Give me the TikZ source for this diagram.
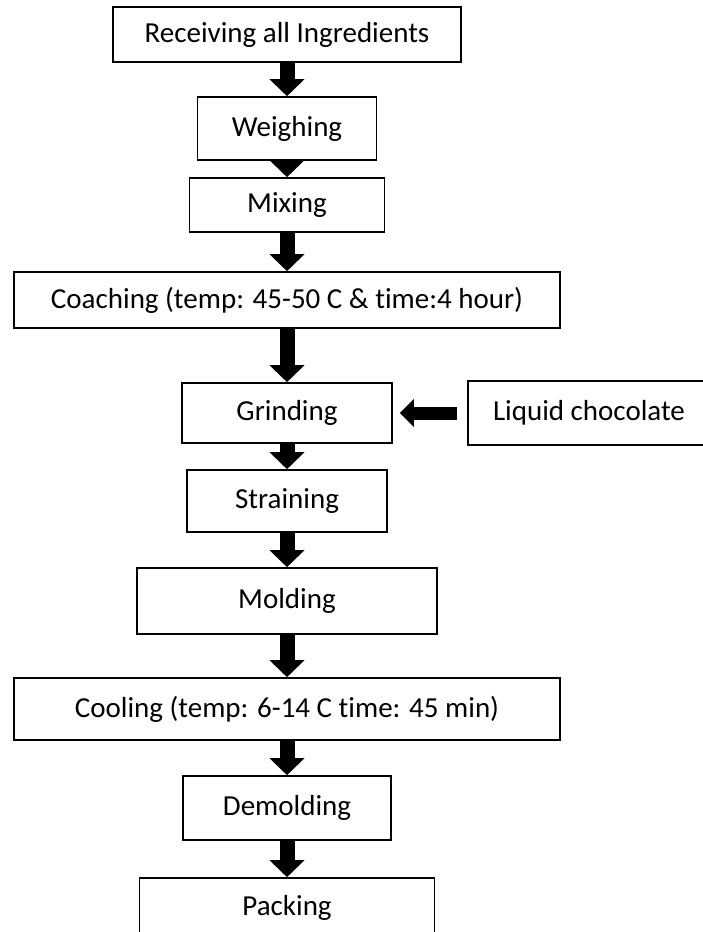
\documentclass[tikz,border=0pt]{standalone}
\usepackage{fontspec}
\setmainfont{Carlito}[Ligatures=NoCommon]
\usetikzlibrary{arrows.meta}

\begin{document}
\begin{tikzpicture}[x=1pt,y=-1pt,
  font=\fontsize{29}{34}\selectfont,
  stage/.style={draw,line width=1.6pt,inner sep=0pt,align=center},
  flowarrow/.style={line width=15pt,-{Triangle[width=34pt,length=17pt]}},
  feedarrow/.style={line width=13pt,-{Triangle[width=27pt,length=14pt]},
                    shorten >=7pt,shorten <=10pt}]
\useasboundingbox (0,0) rectangle (703,932);

% ---------- main line ----------
\node[stage,minimum width=348pt,minimum height=55pt] (recv)   at (287,34.5) {Receiving all Ingredients};
\node[stage,minimum width=179pt,minimum height=63pt] (weigh)  at (287,128.5) {Weighing};
\node[stage,minimum width=195pt,minimum height=54pt] (mix)    at (287,205) {Mixing};
\node[stage,minimum width=546pt,minimum height=56pt] (conch)  at (287,300) {Coaching (temp: 45-50 C \& time:4 hour)};
\node[stage,minimum width=210pt,minimum height=60pt] (grind)  at (287,413) {Grinding};
\node[stage,minimum width=200pt,minimum height=62pt] (strain) at (287,501) {Straining};
\node[stage,minimum width=300pt,minimum height=66pt] (mold)   at (287,601) {Molding};
\node[stage,minimum width=546pt,minimum height=62pt] (cool)   at (287,709) {Cooling (temp: 6-14 C time: 45 min)};
\node[stage,minimum width=208pt,minimum height=64pt] (demold) at (287,808) {Demolding};
\node[stage,minimum width=295pt,minimum height=60pt] (pack)   at (287,908) {Packing};

% ---------- side feed ----------
\node[stage,minimum width=242pt,minimum height=64pt] (choc)   at (589,413) {Liquid chocolate};

% ---------- arrows ----------
\foreach \from/\to in {recv/weigh,weigh/mix,mix/conch,conch/grind,grind/strain,
                       strain/mold,mold/cool,cool/demold,demold/pack}
  \draw[flowarrow] (\from) -- (\to);
\draw[feedarrow] (choc.west) -- (grind.east);
\end{tikzpicture}
\end{document}
